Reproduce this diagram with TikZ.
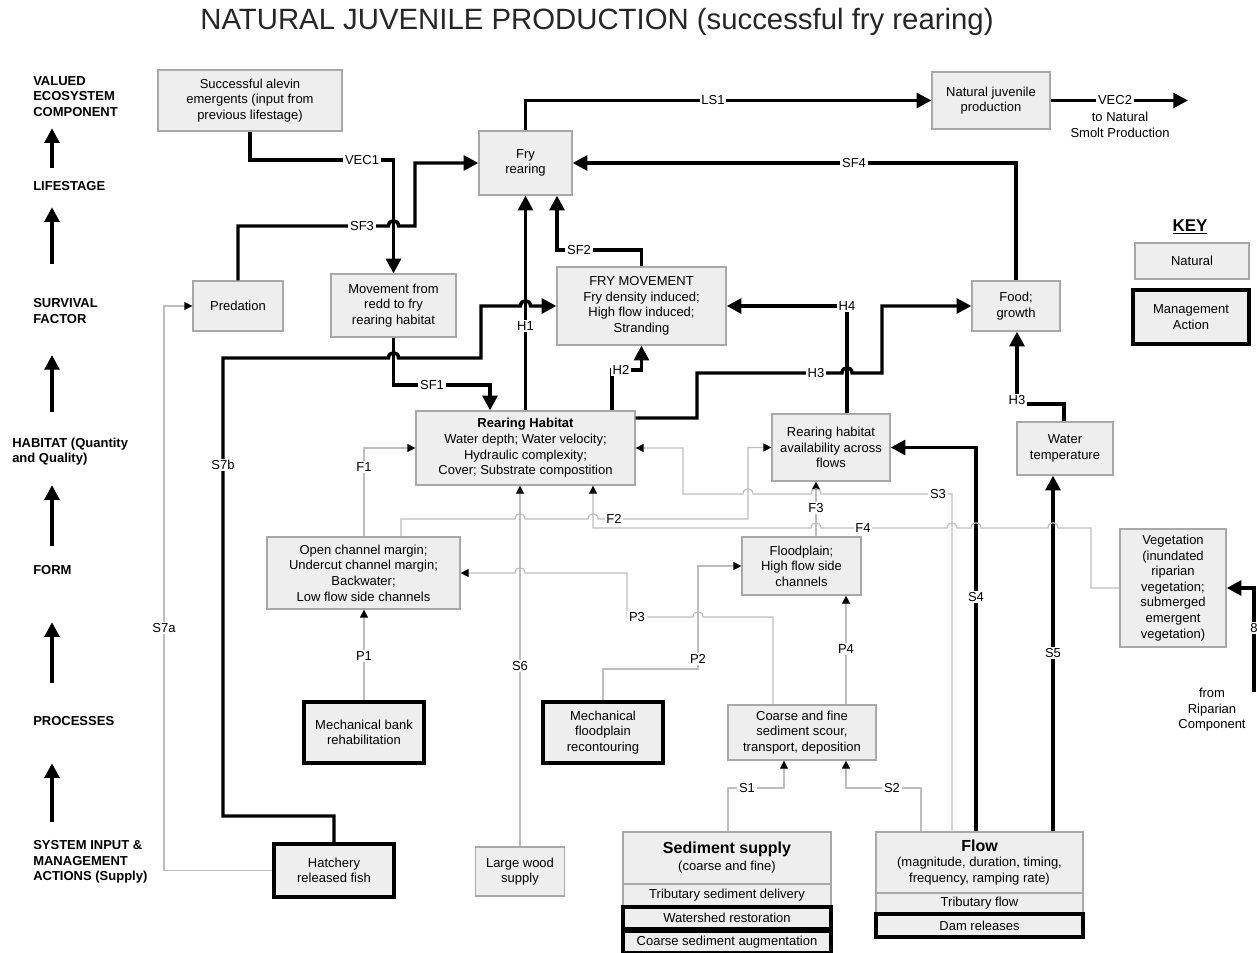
\documentclass[tikz,border=0pt]{standalone}
\usepackage{fontspec}
\setmainfont{Liberation Sans}
\usetikzlibrary{arrows.meta}
\definecolor{boxfill}{HTML}{EEEEEE}
\definecolor{boxline}{HTML}{A8A8A8}
\definecolor{thinline}{HTML}{BDBDBD}
\definecolor{titlegray}{HTML}{262626}
\newcommand\bx{\fontsize{9.75}{11.7}\selectfont}
\newcommand\hdrfont{\fontsize{9.75}{11.7}\selectfont\bfseries}
\newcommand\bigb{\fontsize{12}{14}\selectfont\bfseries}
% line jumps over a vertical line at x=#1, on a horizontal run at y=#2
\newcommand\hopR[2]{-- (#1-5,#2) .. controls (#1-5,#2-7) and (#1+5,#2-7) .. (#1+5,#2)}
\newcommand\hopL[2]{-- (#1+5,#2) .. controls (#1+5,#2-7) and (#1-5,#2-7) .. (#1-5,#2)}
\begin{document}
\begin{tikzpicture}[x=0.75pt,y=-0.75pt,
  box/.style={draw=boxline,line width=0.9pt,fill=boxfill,align=center,inner sep=1pt,font=\bx},
  mbox/.style={box,draw=black,line width=2.8pt},
  sz/.style 2 args={minimum width=#1*0.75pt,minimum height=#2*0.75pt},
  thk/.style={line width=2.6pt,-{Triangle[length=11pt,width=11pt]}},
  gry/.style={draw=thinline,line width=0.9pt,-{Triangle[length=6pt,width=6pt,color=black]}},
  lbl/.style={fill=white,inner sep=1.2pt,font=\bx},
  hdr/.style={font=\hdrfont,align=left,anchor=west,inner sep=0pt},
]
\useasboundingbox (0,0) rectangle (1257,953);

% title
\node[font=\fontsize{22}{26}\selectfont,text=titlegray] (title) at (597,22)
  {NATURAL JUVENILE PRODUCTION (successful fry rearing)};

% hierarchy labels on the left
\node[hdr] (hVEC) at (33,96.5) {VALUED\\ECOSYSTEM\\COMPONENT};
\node[hdr] (hLIFE) at (33,186) {LIFESTAGE};
\node[hdr] (hSURV) at (33,311) {SURVIVAL\\FACTOR};
\node[hdr] (hHAB) at (12,451.5) {HABITAT (Quantity\\and Quality)};
\node[hdr] (hFORM) at (33,570) {FORM};
\node[hdr] (hPROC) at (33,721) {PROCESSES};
\node[hdr] (hSYS) at (33,862) {SYSTEM INPUT \&\\MANAGEMENT\\ACTIONS (Supply)};

\draw[thk,shorten <=9.75pt,shorten >=8.5pt] (hLIFE.north -| 52,0) -- (hVEC.south -| 52,0);
\draw[thk,shorten <=25.7pt,shorten >=12.2pt] (hSURV.north -| 52,0) -- (hLIFE.south -| 52,0);
\draw[thk,shorten <=19.1pt,shorten >=23.5pt] (hHAB.north -| 52,0) -- (hSURV.south -| 52,0);
\draw[thk,shorten <=14.5pt,shorten >=14.6pt] (hFORM.north -| 52,0) -- (hHAB.south -| 52,0);
\draw[thk,shorten <=25pt,shorten >=35.5pt] (hPROC.north -| 52,0) -- (hFORM.south -| 52,0);
\draw[thk,shorten <=13.7pt,shorten >=28pt] (hSYS.north -| 52,0) -- (hPROC.south -| 52,0);

% boxes
\node[box,sz={184}{61}] (alevin) at (250,100.5) {Successful alevin\\emergents (input from\\previous lifestage)};
\node[box,sz={93}{64}] (fry) at (525.5,163) {Fry\\rearing};
\node[box,sz={118}{57}] (njp) at (991,100.5) {Natural juvenile\\production};
\node[box,sz={90}{50}] (pred) at (238,306) {Predation};
\node[box,sz={125}{63}] (move) at (393.5,305.5) {Movement from\\redd to fry\\rearing habitat};
\node[box,sz={169}{78}] (frymove) at (641.5,306) {FRY MOVEMENT\\Fry density induced;\\High flow induced;\\Stranding};
\node[box,sz={88}{50}] (food) at (1016,306) {Food;\\growth};
\node[box,sz={219}{74}] (rh) at (525.5,448) {\textbf{Rearing Habitat}\\Water depth; Water velocity;\\Hydraulic complexity;\\Cover; Substrate compostition};
\node[box,sz={118}{67}] (rha) at (831,447.5) {Rearing habitat\\availability across\\flows};
\node[box,sz={96}{53}] (wt) at (1065,448.5) {Water\\temperature};
\node[box,sz={193}{72}] (open) at (363.5,573) {Open channel margin;\\Undercut channel margin;\\Backwater;\\Low flow side channels};
\node[box,sz={119}{58}] (flood) at (801.5,566) {Floodplain;\\High flow side\\channels};
\node[box,sz={106}{118}] (veg) at (1173,588) {Vegetation\\(inundated\\riparian\\vegetation;\\submerged\\emergent\\vegetation)};
\node[mbox,sz={120}{61}] (mbank) at (364,732.5) {Mechanical bank\\rehabilitation};
\node[mbox,sz={120}{61}] (mflood) at (603,732.5) {Mechanical\\floodplain\\recontouring};
\node[box,sz={148}{55}] (coarse) at (802,732.5) {Coarse and fine\\sediment scour,\\transport, deposition};
\node[mbox,sz={120}{53}] (hatch) at (334,870.5) {Hatchery\\released fish};
\node[box,sz={89}{49}] (wood) at (520,871.5) {Large wood\\supply};

\node[box,sz={208}{52}] (sed) at (727,858) {{\bigb Sediment supply}\\[1pt](coarse and fine)};
\node[box,sz={208}{23}] (sedtrib) at (727,895.5) {Tributary sediment delivery};
\node[mbox,sz={208}{22}] (sedws) at (727,918) {Watershed restoration};
\node[mbox,sz={208}{22}] (sedaug) at (727,942) {Coarse sediment augmentation};

\node[box,sz={207}{61}] (flow) at (979.5,862.5) {{\bigb Flow}\\(magnitude, duration, timing,\\frequency, ramping rate)};
\node[box,sz={207}{20}] (flowtrib) at (979.5,903) {Tributary flow};
\node[mbox,sz={207}{23}] (flowdam) at (979.5,925.5) {Dam releases};

% key
\node[font=\fontsize{12.75}{15}\selectfont\bfseries] (keyt) at (1190,227) {\underline{KEY}};
\node[box,sz={114}{36}] (keynat) at (1192,261) {Natural};
\node[mbox,sz={116}{54}] (keymgmt) at (1191,317) {Management\\Action};

% free texts and ends
\node[font=\bx,align=center] (smolt) at (1120,125) {to Natural\\Smolt Production};
\node[font=\bx,align=center] (ripar) at (1212,710) {from\\Riparian\\Component};
\coordinate (vec2end) at (1188,100.5);
\coordinate (riparin) at (1254,692);

% strong links
\draw[thk] (fry.north) -- (525.5,100.5) -- (713,100.5) node[lbl] (tLS1) {LS1} -- (njp.west);
\draw[thk] (njp.east) -- (1115,100.5) node[lbl] (tVEC2) {VEC2} -- (vec2end);
\draw[thk] (alevin.south) -- (250,160) -- (362,160) node[lbl] (tVEC1) {VEC1} -- (393.5,160) -- (move.north);
\draw[thk] (pred.north) -- (238,226) -- (362,226) node[lbl] (tSF3) {SF3} \hopR{393.5}{226} -- (415,226) -- (415,163) -- (fry.west);
\draw[thk] (food.north) -- (1016,163) -- (854,163) node[lbl] (tSF4) {SF4} -- (fry.east);
\draw[thk] (frymove.north) -- (641.5,250) -- (579,250) node[lbl] (tSF2) {SF2} -- (557,250) -- (fry.south -| 557,0);
\draw[thk] (rh.north) -- (525.5,326) node[lbl] (tH1) {H1} -- (fry.south);
\draw[thk] (hatch.north) -- (334,816) -- (223,816) -- (223,465) node[lbl] (tS7b) {S7b} -- (223,358)
  \hopR{393.5}{358} -- (481,358) -- (481,306) \hopR{525.5}{306} -- (frymove.west);
\draw[thk] (move.south) -- (393.5,385) -- (432,385) node[lbl] (tSF1) {SF1} -- (490,385) -- (rh.north -| 490,0);
\draw[thk] (rh.north -| 612,0) -- (612,370) -- (621,370) node[lbl] (tH2) {H2} -- (641.5,370) -- (frymove.south);
\draw[thk] (rh.east |- 0,418) -- (697,418) -- (697,373) -- (816,373) node[lbl] (tH3a) {H3}
  \hopR{847}{373} -- (882,373) -- (882,306) -- (food.west);
\draw[thk] (rha.north -| 847,0) -- (847,306) node[lbl] (tH4) {H4} -- (frymove.east);
\draw[thk] (wt.north -| 1064,0) -- (1064,404) -- (1017,404) node[lbl,yshift=3pt] (tH3b) {H3} -- (food.south -| 1017,0);
\draw[thk] (flow.north -| 976,0) -- (976,597) node[lbl] (tS4) {S4} -- (976,447.5) -- (rha.east);
\draw[thk] (flow.north -| 1053,0) -- (1053,653) node[lbl] (tS5) {S5} -- (wt.south -| 1053,0);
\draw[thk] (riparin) -- (1254,628) node[lbl] (t8) {8} -- (1254,588) -- (veg.east);

% weak links
\draw[gry] (hatch.west) -- (164,870.5) -- (164,628) node[lbl] (tS7a) {S7a} -- (164,306) -- (pred.west);
\draw[gry] (open.north -| 364,0) -- (364,467) node[lbl] (tF1) {F1} -- (364,448) -- (rh.west);
\draw[gry] (open.north -| 401,0) -- (401,519) \hopR{520}{519} \hopR{593}{519} -- (614,519) node[lbl] (tF2) {F2}
  -- (748,519) -- (748,447.5) -- (rha.west);
\draw[gry] (veg.west) -- (1091,588) -- (1091,528) \hopL{1053}{528} \hopL{976}{528} \hopL{952}{528}
  -- (863,528) node[lbl] (tF4) {F4} \hopL{816}{528} -- (593,528) -- (rh.south -| 593,0);
\draw[gry] (flood.north -| 816,0) -- (816,508) node[lbl] (tF3) {F3} -- (rha.south -| 816,0);
\draw[gry] (flow.north -| 952,0) -- (952,494) -- (938,494) node[lbl] (tS3) {S3} \hopL{816}{494} \hopL{748}{494}
  -- (683,494) -- (683,448) -- (rh.east);
\draw[gry] (mbank.north) -- (364,656) node[lbl] (tP1) {P1} -- (open.south -| 364,0);
\draw[gry] (wood.north) -- (520,666) node[lbl] (tS6) {S6} -- (rh.south -| 520,0);
\draw[gry] (coarse.north -| 773,0) -- (773,617) \hopL{698}{617} -- (637,617) node[lbl] (tP3) {P3}
  -- (627,617) -- (627,573) \hopL{520}{573} -- (open.east);
\draw[gry] (mflood.north) -- (603,669) -- (698,669) -- (698,659) node[lbl] (tP2) {P2} -- (698,566) -- (flood.west);
\draw[gry] (coarse.north -| 846,0) -- (846,649) node[lbl] (tP4) {P4} -- (flood.south -| 846,0);
\draw[gry] (sed.north -| 728,0) -- (728,788) -- (747,788) node[lbl] (tS1) {S1} -- (784,788) -- (coarse.south -| 784,0);
\draw[gry] (flow.north -| 921,0) -- (921,788) -- (892,788) node[lbl] (tS2) {S2} -- (846,788) -- (coarse.south -| 846,0);
\end{tikzpicture}
\end{document}
